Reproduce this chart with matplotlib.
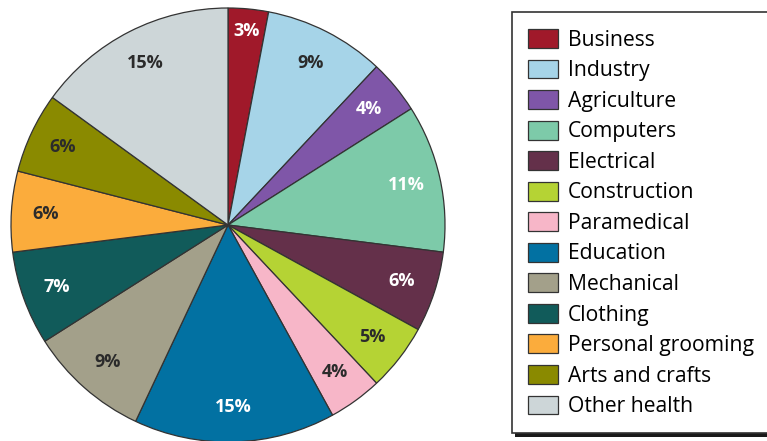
import matplotlib.pyplot as plt
from matplotlib.patches import Rectangle
import numpy as np

plt.rcParams['font.family'] = ['Open Sans', 'DejaVu Sans']

categorias = ['Business', 'Industry', 'Agriculture', 'Computers', 'Electrical',
              'Construction', 'Paramedical', 'Education', 'Mechanical', 'Clothing',
              'Personal grooming', 'Arts and crafts', 'Other health']
porcentajes = [3, 9, 4, 11, 6, 5, 4, 15, 9, 7, 6, 6, 15]
colores = ['#a0192a', '#a6d4e8', '#7f56a8', '#7dcaa9', '#64304a', '#b5d334',
           '#f7b6c8', '#0271a2', '#a3a08a', '#115b5a', '#fbac3c', '#8a8a00', '#cdd6d8']
color_texto = ['white', '#2b2b2b', 'white', 'white', 'white', '#2b2b2b',
               '#2b2b2b', 'white', '#2b2b2b', 'white', '#2b2b2b', '#2b2b2b', '#2b2b2b']

W, H = 767, 441
fig = plt.figure(figsize=(W / 100, H / 100), dpi=100)

# pastel: centro (228, 225) px, radio 217 px
cx, cy, r = 228, 225, 217
ax = fig.add_axes([(cx - r) / W, (H - cy - r) / H, 2 * r / W, 2 * r / H])
wedges, _ = ax.pie(porcentajes, colors=colores, startangle=90, counterclock=False,
                   radius=1, wedgeprops={'edgecolor': '#333333', 'linewidth': 0.9})
ax.set_xlim(-1, 1)
ax.set_ylim(-1, 1)
ax.set_aspect('equal')
ax.axis('off')

# etiquetas de porcentaje
for w, p, tc in zip(wedges, porcentajes, color_texto):
    ang = np.deg2rad((w.theta1 + w.theta2) / 2)
    dist = 0.9 if p <= 3 else 0.84
    ax.text(dist * np.cos(ang), dist * np.sin(ang), f'{p}%', ha='center', va='center',
            color=tc, fontsize=13, fontweight='bold')

# caja de la leyenda con sombra
x0, y0, x1, y1 = 512, 12, 780, 433
fig.patches.append(Rectangle(((x0 + 3) / W, (H - y1 - 4) / H), (x1 - x0) / W, (y1 - y0) / H,
                             transform=fig.transFigure, facecolor='#1a1a1a', edgecolor='none', zorder=0))
fig.patches.append(Rectangle((x0 / W, (H - y1) / H), (x1 - x0) / W, (y1 - y0) / H,
                             transform=fig.transFigure, facecolor='white', edgecolor='#333333',
                             linewidth=1.2, zorder=1))

leg = fig.legend(wedges, categorias, loc='upper left', bbox_to_anchor=(528 / W, 1 - 29 / H),
                 frameon=False, fontsize=15.2, handlelength=1.4, handleheight=1.0,
                 handletextpad=0.5, labelspacing=0.42, borderpad=0, borderaxespad=0)
leg.set_zorder(2)

fig.savefig('out.png', dpi=100)
